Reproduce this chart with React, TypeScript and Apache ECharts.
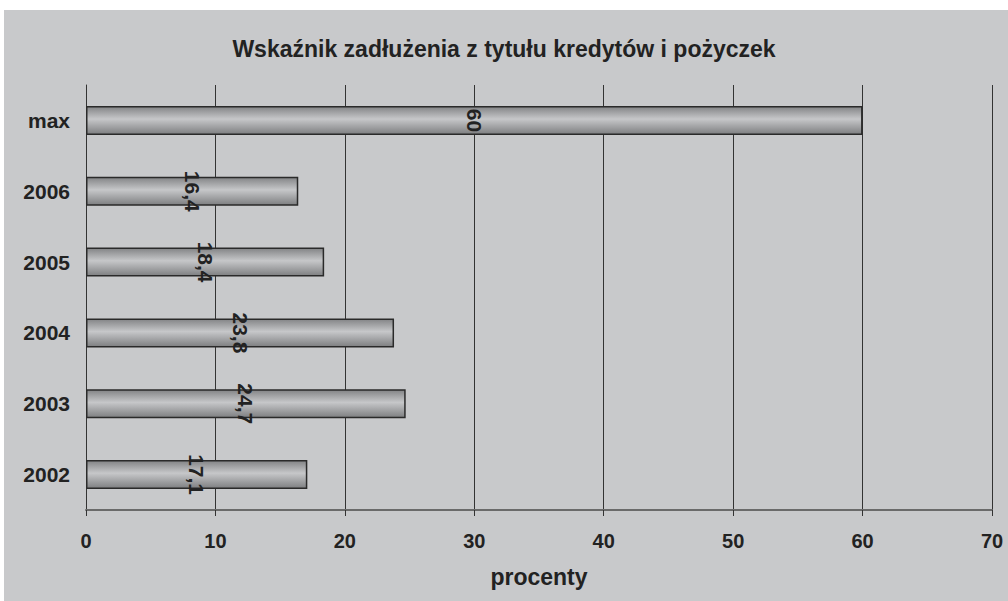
import React, { useEffect, useRef } from "react";
import * as echarts from "echarts";

const categories = ["2002", "2003", "2004", "2005", "2006", "max"];
const values = [17.1, 24.7, 23.8, 18.4, 16.4, 60];
const xTicks = { min: 0, max: 70, interval: 10 };
const titleText = "Wskaźnik zadłużenia z tytułu kredytów i pożyczek";
const xAxisName = "procenty";

const FONT = "'Liberation Sans', Arial, sans-serif";

export default function App() {
  const ref = useRef<HTMLDivElement>(null);
  useEffect(() => {
    if (!ref.current) return;
    const chart = echarts.init(ref.current, undefined, { renderer: "svg" });
    chart.setOption({
      animation: false,
      backgroundColor: "#ffffff",
      textStyle: { fontFamily: FONT },
      graphic: [
        {
          type: "rect",
          z: -10,
          silent: true,
          shape: { x: 4, y: 10, width: 1004, height: 591 },
          style: { fill: "#c8c9cb" },
        },
      ],
      title: {
        text: titleText,
        left: "center",
        top: 32,
        textStyle: { fontFamily: FONT, fontWeight: "bold", fontSize: 23, color: "#222" },
      },
      grid: { left: 86, right: 16, top: 85, bottom: 91, containLabel: false },
      xAxis: {
        type: "value",
        min: xTicks.min,
        max: xTicks.max,
        interval: xTicks.interval,
        name: xAxisName,
        nameLocation: "middle",
        nameGap: 55,
        nameTextStyle: { fontFamily: FONT, fontWeight: "bold", fontSize: 23, color: "#222" },
        axisLine: { show: true, lineStyle: { color: "#6a6a6a", width: 2 } },
        axisTick: { show: true, length: 6, lineStyle: { color: "#333", width: 1 } },
        axisLabel: { margin: 21, fontFamily: FONT, fontWeight: "bold", fontSize: 20, color: "#222" },
        splitLine: { show: true, lineStyle: { color: "#333", width: 1 } },
      },
      yAxis: {
        type: "category",
        data: categories,
        axisLine: { show: true, lineStyle: { color: "#333", width: 1 } },
        axisTick: { show: false },
        axisLabel: { margin: 16, fontFamily: FONT, fontWeight: "bold", fontSize: 21, color: "#222" },
        splitLine: { show: false },
      },
      series: [
        {
          type: "bar",
          data: values,
          barWidth: 29,
          itemStyle: {
            color: new echarts.graphic.LinearGradient(0, 0, 0, 1, [
              { offset: 0, color: "#838486" },
              { offset: 0.45, color: "#c6c7c9" },
              { offset: 1, color: "#7e7f81" },
            ]),
            borderColor: "#2a2a2a",
            borderWidth: 1.5,
          },
          label: {
            show: true,
            position: "inside",
            rotate: -90,
            fontFamily: FONT,
            fontWeight: "bold",
            fontSize: 21,
            color: "#222",
            formatter: (p: any) => String(p.value).replace(".", ","),
          },
        },
      ],
    });
    return () => chart.dispose();
  }, []);
  return (
    <div
      ref={ref}
      style={{ position: "fixed", left: 0, top: 0, width: 1008, height: 601 }}
    />
  );
}
